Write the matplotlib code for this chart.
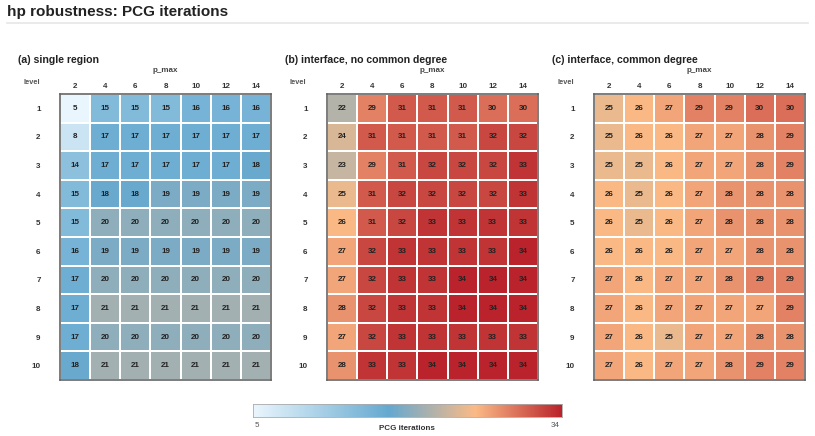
import numpy as np
import matplotlib
matplotlib.use("Agg")
import matplotlib.pyplot as plt
from matplotlib.colors import LinearSegmentedColormap, Normalize
from matplotlib.lines import Line2D

plt.rcParams["font.family"] = ["Liberation Sans", "DejaVu Sans"]

p_max = [2, 4, 6, 8, 10, 12, 14]
levels = [1, 2, 3, 4, 5, 6, 7, 8, 9, 10]

single_region = [
    [5, 15, 15, 15, 16, 16, 16],
    [8, 17, 17, 17, 17, 17, 17],
    [14, 17, 17, 17, 17, 17, 18],
    [15, 18, 18, 19, 19, 19, 19],
    [15, 20, 20, 20, 20, 20, 20],
    [16, 19, 19, 19, 19, 19, 19],
    [17, 20, 20, 20, 20, 20, 20],
    [17, 21, 21, 21, 21, 21, 21],
    [17, 20, 20, 20, 20, 20, 20],
    [18, 21, 21, 21, 21, 21, 21],
]
interface_no_common = [
    [22, 29, 31, 31, 31, 30, 30],
    [24, 31, 31, 31, 31, 32, 32],
    [23, 29, 31, 32, 32, 32, 33],
    [25, 31, 32, 32, 32, 32, 33],
    [26, 31, 32, 33, 33, 33, 33],
    [27, 32, 33, 33, 33, 33, 34],
    [27, 32, 33, 33, 34, 34, 34],
    [28, 32, 33, 33, 34, 34, 34],
    [27, 32, 33, 33, 33, 33, 33],
    [28, 33, 33, 34, 34, 34, 34],
]
interface_common = [
    [25, 26, 27, 29, 29, 30, 30],
    [25, 26, 26, 27, 27, 28, 29],
    [25, 25, 26, 27, 27, 28, 29],
    [26, 25, 26, 27, 28, 28, 28],
    [26, 25, 26, 27, 28, 28, 28],
    [26, 26, 26, 27, 27, 28, 28],
    [27, 26, 27, 27, 28, 29, 29],
    [27, 26, 27, 27, 27, 27, 29],
    [27, 26, 25, 27, 27, 28, 28],
    [27, 26, 27, 27, 28, 29, 29],
]
panel_titles = ["(a) single region", "(b) interface, no common degree", "(c) interface, common degree"]
vmin, vmax = 5, 34

W, H = 815, 436
fig = plt.figure(figsize=(W / 100, H / 100), dpi=100)
fig.patch.set_facecolor("white")

cmap = LinearSegmentedColormap.from_list(
    "custom",
    [(0.0, "#eaf6fd"), (0.44, "#65a9d0"), (0.72, "#fbbb86"), (1.0, "#ba232c")],
)
norm = Normalize(vmin=vmin, vmax=vmax)

def px_axes(x0, y0, x1, y1):
    return fig.add_axes([x0 / W, 1 - y1 / H, (x1 - x0) / W, (y1 - y0) / H])

# Title and separator
fig.text(7 / W, 1 - 12 / H, "hp robustness: PCG iterations", fontsize=11, fontweight="bold",
         color="#222222", va="center", ha="left")
fig.add_artist(Line2D([7 / W, 808 / W], [1 - 23 / H, 1 - 23 / H], color="#e6e6e6", lw=1.2))

lefts = [60, 327, 594]
rights = [271, 538, 805]
top, bottom = 94, 380
datasets = [single_region, interface_no_common, interface_common]

for i, data in enumerate(datasets):
    arr = np.array(data)
    ax = px_axes(lefts[i], top, rights[i], bottom)
    ax.pcolormesh(np.arange(len(p_max) + 1), np.arange(len(levels) + 1), arr, cmap=cmap, norm=norm,
                  edgecolors="white", linewidth=1.3)
    ax.set_xlim(0, len(p_max))
    ax.set_ylim(len(levels), 0)
    for r in range(len(levels)):
        for c in range(len(p_max)):
            ax.text(c + 0.5, r + 0.5, str(arr[r, c]), ha="center", va="center", fontsize=5.8,
                    fontweight="bold", color="#222222")
    ax.xaxis.tick_top()
    ax.set_xticks(np.arange(len(p_max)) + 0.5)
    ax.set_xticklabels([str(p) for p in p_max], fontsize=5.8, fontweight="bold", color="#333333")
    ax.set_yticks(np.arange(len(levels)) + 0.5)
    ax.set_yticklabels([str(l) for l in levels], fontsize=5.8, fontweight="bold", color="#333333")
    ax.tick_params(axis="x", length=0, pad=3)
    ax.tick_params(axis="y", length=0, pad=14)
    for s in ax.spines.values():
        s.set_color("#666666")
        s.set_linewidth(1.2)
    cx = (lefts[i] + rights[i]) / 2
    fig.text((lefts[i] - 42) / W, 1 - 60 / H, panel_titles[i], fontsize=7.6, fontweight="bold",
             color="#222222", ha="left", va="center")
    fig.text(cx / W, 1 - 71 / H, "p_max", fontsize=5.8, fontweight="bold", color="#444444",
             ha="center", va="center")
    fig.text((lefts[i] - 37) / W, 1 - 82 / H, "level", fontsize=5.3, fontweight="bold",
             color="#555555", ha="left", va="center")

# Colorbar
cax = px_axes(253, 404, 562, 417)
grad = np.linspace(vmin, vmax, 512).reshape(1, -1)
cax.imshow(grad, aspect="auto", cmap=cmap, norm=norm, extent=[vmin, vmax, 0, 1])
cax.set_xticks([])
cax.set_yticks([])
for s in cax.spines.values():
    s.set_color("#aaaaaa")
    s.set_linewidth(0.6)
fig.text(255 / W, 1 - 425 / H, str(vmin), fontsize=5.8, color="#555555", ha="left", va="center")
fig.text(560 / W, 1 - 425 / H, str(vmax), fontsize=5.8, color="#555555", ha="right", va="center")
fig.text(407 / W, 1 - 428 / H, "PCG iterations", fontsize=5.8, fontweight="bold", color="#333333",
         ha="center", va="center")

fig.savefig("out.png", dpi=100, facecolor="white")
